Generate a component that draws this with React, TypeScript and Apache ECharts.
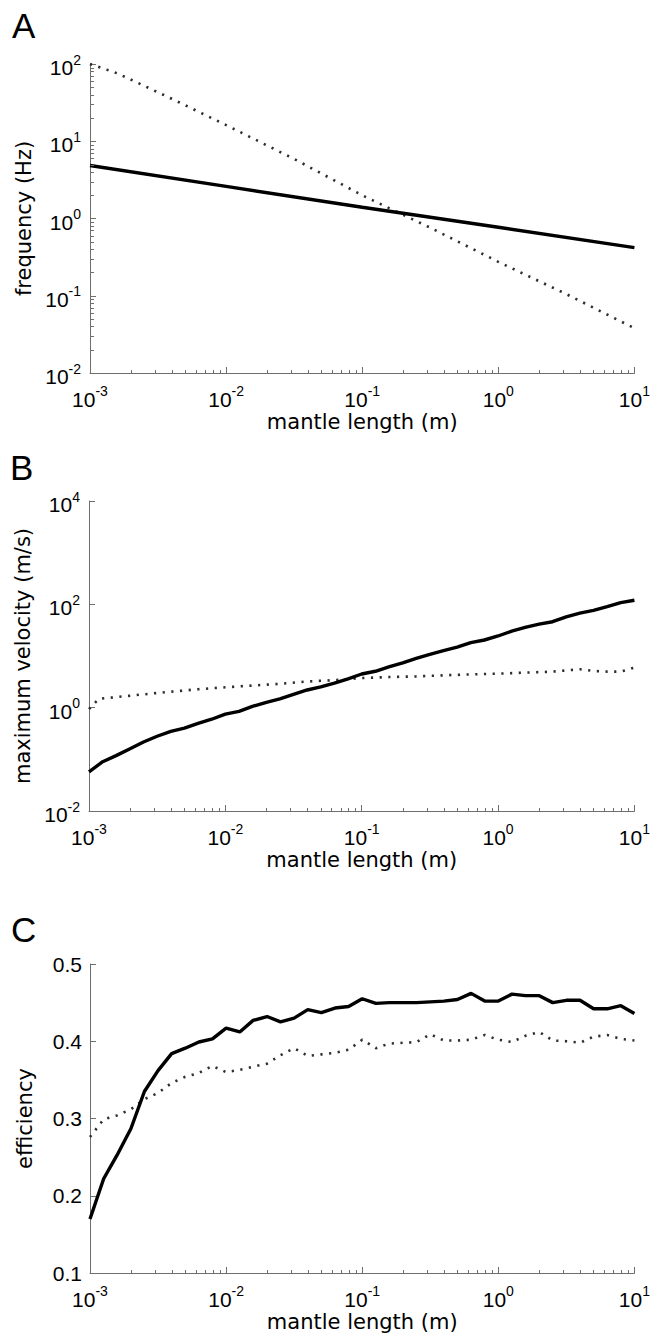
import React, { useEffect, useRef } from "react";
import * as echarts from "echarts";

// x positions (mantle length, m) used by panels B and C
const mantleLength = [
  0.001, 0.00126, 0.00158, 0.002, 0.00251, 0.00316, 0.00398, 0.00501, 0.00631, 0.00794,
  0.01, 0.0126, 0.0158, 0.02, 0.0251, 0.0316, 0.0398, 0.0501, 0.0631, 0.0794,
  0.1, 0.126, 0.158, 0.2, 0.251, 0.316, 0.398, 0.501, 0.631, 0.794,
  1, 1.26, 1.58, 2, 2.51, 3.16, 3.98, 5.01, 6.31, 7.94, 10,
];

// Panel A: frequency (Hz)
const freqSolidX = [0.001, 0.01, 0.1, 1, 10];
const freqSolid = [4.85, 2.6, 1.4, 0.77, 0.42];
const freqDottedX = [0.001, 0.00158, 0.00251, 0.00398, 0.00631, 0.01, 0.0316, 0.1, 0.316, 1, 3.16, 10];
const freqDotted = [100, 76, 52, 35.5, 24, 16.2, 5.9, 2.0, 0.76, 0.275, 0.105, 0.038];

// Panel B: maximum velocity (m/s)
const velSolid = [
  0.057, 0.09, 0.118, 0.16, 0.217, 0.28, 0.347, 0.403, 0.498, 0.597,
  0.75, 0.847, 1.06, 1.27, 1.48, 1.81, 2.2, 2.52, 2.98, 3.62,
  4.48, 5.06, 6.15, 7.38, 9.0, 10.8, 12.7, 14.8, 18.1, 20.4,
  24.4, 30.2, 35.7, 41.5, 46.1, 57.1, 67.5, 76.2, 90, 108, 120,
];
const velDottedX = [
  0.001, 0.00118, 0.00158, 0.00251, 0.00398, 0.00631, 0.01, 0.0158, 0.0251, 0.0398,
  0.0631, 0.1, 0.158, 0.251, 0.398, 0.631, 1, 1.58, 2.51, 3.98, 5.01, 6.31, 7.94, 10,
];
const velDotted = [
  0.94, 1.48, 1.6, 1.81, 2.04, 2.27, 2.48, 2.68, 2.89, 3.21,
  3.41, 3.74, 3.91, 4.03, 4.22, 4.41, 4.55, 4.76, 4.98, 5.54, 5.14, 4.98, 4.98, 5.97,
];

// Panel C: efficiency
const effSolid = [
  0.17, 0.222, 0.2525, 0.287, 0.335, 0.362, 0.384, 0.391, 0.399, 0.403,
  0.417, 0.412, 0.427, 0.432, 0.425, 0.43, 0.441, 0.437, 0.443, 0.445,
  0.455, 0.449, 0.45, 0.45, 0.45, 0.451, 0.452, 0.454, 0.462, 0.452,
  0.452, 0.461, 0.459, 0.459, 0.45, 0.453, 0.453, 0.442, 0.442, 0.446, 0.436,
];
const effDotted = [
  0.276, 0.299, 0.304, 0.312, 0.325, 0.333, 0.346, 0.354, 0.359, 0.368,
  0.36, 0.363, 0.367, 0.371, 0.382, 0.391, 0.381, 0.383, 0.385, 0.389,
  0.402, 0.391, 0.397, 0.398, 0.399, 0.409, 0.401, 0.401, 0.402, 0.408,
  0.402, 0.399, 0.407, 0.412, 0.401, 0.4, 0.398, 0.406, 0.408, 0.403, 0.401,
];

// tick labels
const xTickValues = [0.001, 0.01, 0.1, 1, 10];
const xTickExponents = ["-3", "-2", "-1", "0", "1"];
const freqTickValues = [0.01, 0.1, 1, 10, 100];
const freqTickExponents = ["-2", "-1", "0", "1", "2"];
const velTickValues = [0.01, 1, 100, 10000];
const velTickExponents = ["-2", "0", "2", "4"];
const effTickLabels = ["0.1", "0.2", "0.3", "0.4", "0.5"];

// minor tick positions on log axes
const minorMultipliers = [2, 3, 4, 5, 6, 7, 8, 9];
const xDecades = [0.001, 0.01, 0.1, 1];
const freqDecades = [0.01, 0.1, 1, 10];

const panelLetters = ["A", "B", "C"];
const xTitle = "mantle length (m)";
const yTitles = ["frequency (Hz)", "maximum velocity (m/s)", "efficiency"];

const AXIS = "#6e6e6e";
const TICK_FONT = "Liberation Sans, Arial, sans-serif";
const TITLE_FONT = "DejaVu Sans, sans-serif";

const rich = {
  b: { fontFamily: TICK_FONT, fontSize: 21, lineHeight: 30, color: "#000" },
  s: { fontFamily: TICK_FONT, fontSize: 14, lineHeight: 12, verticalAlign: "top", color: "#000" },
};

function expFormatter(values: number[], exps: string[]) {
  return (v: number) => {
    let best = 0;
    let bd = Infinity;
    values.forEach((t, i) => {
      const d = Math.abs(Math.log10(t) - Math.log10(v));
      if (d < bd) {
        bd = d;
        best = i;
      }
    });
    return bd < 0.01 ? `{b|10}{s|${exps[best]}}` : "";
  };
}

function minorPoints(decades: number[], other: number, isX: boolean) {
  const pts: number[][] = [];
  decades.forEach((d) =>
    minorMultipliers.forEach((m) => {
      const v = +(d * m).toPrecision(3);
      pts.push(isX ? [v, other] : [other, v]);
    })
  );
  return pts;
}

function minorSeries(idx: number, data: number[][], isX: boolean) {
  return {
    type: "custom",
    xAxisIndex: idx,
    yAxisIndex: idx,
    silent: true,
    clip: false,
    z: 3,
    data,
    renderItem: (_p: any, api: any) => {
      const p = api.coord([api.value(0), api.value(1)]);
      const x = Math.round(p[0]) + 0.5;
      const y = Math.round(p[1]) + 0.5;
      const shape = isX
        ? { x1: x, y1: y, x2: x, y2: y - 3.5 }
        : { x1: x, y1: y, x2: x + 3.5, y2: y };
      return { type: "line", shape, style: { stroke: AXIS, lineWidth: 1 } };
    },
  };
}

const axisLine = { show: true, onZero: false, lineStyle: { color: AXIS, width: 1 } };
const axisTick = { show: true, inside: true, length: 6, lineStyle: { color: AXIS, width: 1 } };

function xAxisFor(idx: number) {
  return {
    type: "log",
    logBase: 10,
    gridIndex: idx,
    min: 0.001,
    max: 10,
    axisLine,
    axisTick,
    splitLine: { show: false },
    minorTick: { show: false },
    axisLabel: {
      formatter: expFormatter(xTickValues, xTickExponents),
      rich,
      margin: 11,
      showMinLabel: true,
      showMaxLabel: true,
    },
    name: xTitle,
    nameLocation: "middle",
    nameGap: 38,
    nameTextStyle: { fontFamily: TITLE_FONT, fontSize: 21, color: "#000" },
  };
}

const yName = (i: number) => ({
  name: yTitles[i],
  nameLocation: "middle",
  nameGap: 55,
  nameTextStyle: { fontFamily: TITLE_FONT, fontSize: 21, color: "#000" },
});

const solidStyle = { color: "#000", width: 3.4 };
const dottedStyle = { color: "#2e2e2e", width: 2.6, type: [2.2, 6.5], cap: "butt" };

export default function App() {
  const ref = useRef<HTMLDivElement>(null);
  useEffect(() => {
    document.body.style.margin = "0";
    if (!ref.current) return;
    const chart = echarts.init(ref.current, undefined, { renderer: "svg" });
    const pair = (xs: number[], ys: number[]) => xs.map((x, i) => [x, ys[i]]);
    const option: any = {
      animation: false,
      backgroundColor: "#fff",
      grid: [
        { left: 90, top: 64, width: 548, height: 309 },
        { left: 89, top: 501, width: 549, height: 310 },
        { left: 90, top: 964, width: 548, height: 309 },
      ],
      xAxis: [xAxisFor(0), xAxisFor(1), xAxisFor(2)],
      yAxis: [
        {
          type: "log",
          logBase: 10,
          gridIndex: 0,
          min: 0.01,
          max: 100,
          axisLine,
          axisTick,
          splitLine: { show: false },
          axisLabel: {
            formatter: expFormatter(freqTickValues, freqTickExponents),
            rich,
            margin: 9,
            padding: [7, 0, 0, 0],
            showMinLabel: true,
            showMaxLabel: true,
          },
          ...yName(0),
        },
        {
          type: "log",
          logBase: 100,
          gridIndex: 1,
          min: 0.01,
          max: 10000,
          axisLine,
          axisTick,
          splitLine: { show: false },
          axisLabel: {
            formatter: expFormatter(velTickValues, velTickExponents),
            rich,
            margin: 9,
            padding: [7, 0, 0, 0],
            showMinLabel: true,
            showMaxLabel: true,
          },
          ...yName(1),
        },
        {
          type: "value",
          gridIndex: 2,
          min: 0.1,
          max: 0.5,
          interval: 0.1,
          axisLine,
          axisTick,
          splitLine: { show: false },
          axisLabel: {
            formatter: (v: number) => {
              const i = Math.round(v * 10) - 1;
              return effTickLabels[i] ?? "";
            },
            fontFamily: TICK_FONT,
            fontSize: 21,
            color: "#000",
            margin: 8,
            showMinLabel: true,
            showMaxLabel: true,
          },
          ...yName(2),
        },
      ],
      series: [
        { type: "line", xAxisIndex: 0, yAxisIndex: 0, data: pair(freqDottedX, freqDotted), showSymbol: false, symbol: "none", lineStyle: dottedStyle, z: 2 },
        { type: "line", xAxisIndex: 0, yAxisIndex: 0, data: pair(freqSolidX, freqSolid), showSymbol: false, symbol: "none", lineStyle: solidStyle, z: 2 },
        { type: "line", xAxisIndex: 1, yAxisIndex: 1, data: pair(velDottedX, velDotted), showSymbol: false, symbol: "none", lineStyle: dottedStyle, z: 2 },
        { type: "line", xAxisIndex: 1, yAxisIndex: 1, data: pair(mantleLength, velSolid), showSymbol: false, symbol: "none", lineStyle: solidStyle, z: 2 },
        { type: "line", xAxisIndex: 2, yAxisIndex: 2, data: pair(mantleLength, effDotted), showSymbol: false, symbol: "none", lineStyle: dottedStyle, z: 2 },
        { type: "line", xAxisIndex: 2, yAxisIndex: 2, data: pair(mantleLength, effSolid), showSymbol: false, symbol: "none", lineStyle: solidStyle, z: 2 },
        minorSeries(0, minorPoints(xDecades, 0.01, true), true),
        minorSeries(0, minorPoints(freqDecades, 0.001, false), false),
        minorSeries(1, minorPoints(xDecades, 0.01, true), true),
        minorSeries(2, minorPoints(xDecades, 0.1, true), true),
      ],
      graphic: [
        { type: "text", left: 12, top: 8, style: { text: panelLetters[0], font: `35px ${TICK_FONT}`, fill: "#000" } },
        { type: "text", left: 10, top: 450, style: { text: panelLetters[1], font: `35px ${TICK_FONT}`, fill: "#000" } },
        { type: "text", left: 11, top: 912, style: { text: panelLetters[2], font: `35px ${TICK_FONT}`, fill: "#000" } },
      ],
    };
    chart.setOption(option);
    return () => chart.dispose();
  }, []);
  return <div ref={ref} style={{ width: 653, height: 1339 }} />;
}
